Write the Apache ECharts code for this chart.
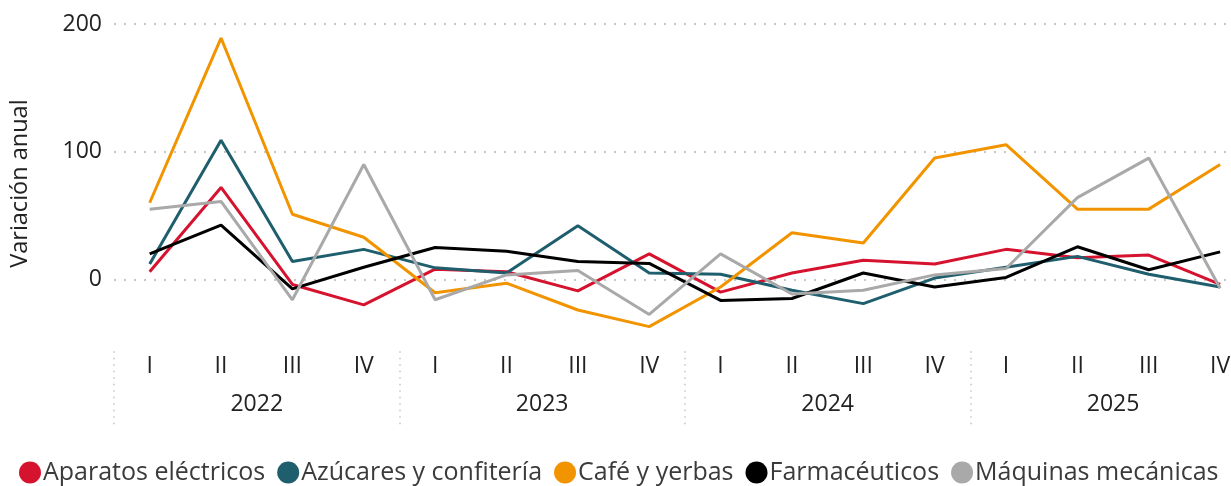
<!DOCTYPE html>
<html>
<head>
<meta charset="utf-8">
<script src="https://cdn.jsdelivr.net/npm/echarts@6/dist/echarts.min.js"></script>
<style>html,body{margin:0;padding:0;background:#fff;overflow:hidden;width:1231px;height:486px}#c{width:1260px;height:486px}</style>
</head>
<body>
<div id="c"></div>
<script>
const quarters = ['I','II','III','IV','I','II','III','IV','I','II','III','IV','I','II','III','IV'];
const years = ['2022','2023','2024','2025'];
const seriesNames = ['Aparatos eléctricos','Azúcares y confitería','Café y yerbas','Farmacéuticos','Máquinas mecánicas'];
const aparatos = [6, 72, -4, -20, 8, 6, -9, 20, -10, 5, 15, 12, 23.5, 17, 19, -4];
const azucares = [12, 109, 14, 23.5, 9, 5, 42, 5, 4, -8.5, -19, 1, 9.5, 18, 4, -6];
const cafe = [60, 189, 51, 33, -10.5, -3, -24, -37, -6, 36.5, 28.5, 95, 105.5, 55, 55, 90];
const farma = [20, 42.5, -7.5, 9.5, 25, 22, 14, 12.5, -16.5, -15, 5, -6, 1.5, 25.5, 7.5, 21.5];
const maquinas = [55, 61, -16, 90, -16, 3.5, 7, -27.5, 20, -11.5, -8.5, 3.5, 8.5, 64, 95, -7];
const colors = ['#D6132F', '#1F5E6D', '#F29400', '#000000', '#A9A9A9'];
const allData = [aparatos, azucares, cafe, farma, maquinas];

const FONT = 'Open Sans';
const chart = echarts.init(document.getElementById('c'), null, {renderer: 'canvas'});
chart.setOption({
  animation: false,
  textStyle: {fontFamily: FONT},
  color: colors,
  grid: {left: 112.3, width: 1143.5, top: 24, bottom: 142.8, containLabel: false},
  legend: {
    data: seriesNames,
    left: 14, top: 455,
    icon: 'circle', itemWidth: 22, itemHeight: 22, itemGap: 12,
    textStyle: {fontFamily: FONT, fontSize: 25, color: '#3b3b3b', padding: [0,0,0,-3]}
  },
  xAxis: [
    {
      type: 'category', data: quarters, position: 'bottom', boundaryGap: true,
      axisLine: {show: false}, axisTick: {show: false}, splitLine: {show: false},
      axisLabel: {interval: 0, margin: 12, fontSize: 23, color: '#222', fontFamily: FONT}
    },
    {
      type: 'category', data: years, position: 'bottom', boundaryGap: true, offset: 8,
      axisLine: {show: false}, splitLine: {show: false},
      axisTick: {show: true, length: 74, lineStyle: {type: [1.5, 5], color: '#c4c4c4', width: 1.5}},
      axisLabel: {interval: 0, margin: 42, fontSize: 23, color: '#222', fontFamily: FONT}
    }
  ],
  yAxis: {
    type: 'value', min: -50, max: 200, interval: 50,
    name: 'Variación anual', nameLocation: 'middle', nameGap: 82,
    nameTextStyle: {fontSize: 23.5, color: '#222', fontFamily: FONT},
    axisLine: {show: false}, axisTick: {show: false},
    axisLabel: {margin: 12, fontSize: 23, color: '#222', fontFamily: FONT,
      formatter: v => (v % 100 === 0 ? String(v) : '')},
    splitLine: {show: true, lineStyle: {type: [2, 8], width: 2, color: ['rgba(0,0,0,0)', '#c8c8c8']}}
  },
  series: allData.map((d, i) => ({
    name: seriesNames[i], type: 'line', data: d, xAxisIndex: 0,
    symbol: 'none', showSymbol: false,
    lineStyle: {width: 3, color: colors[i]}, itemStyle: {color: colors[i]}
  }))
});
</script>
</body>
</html>
